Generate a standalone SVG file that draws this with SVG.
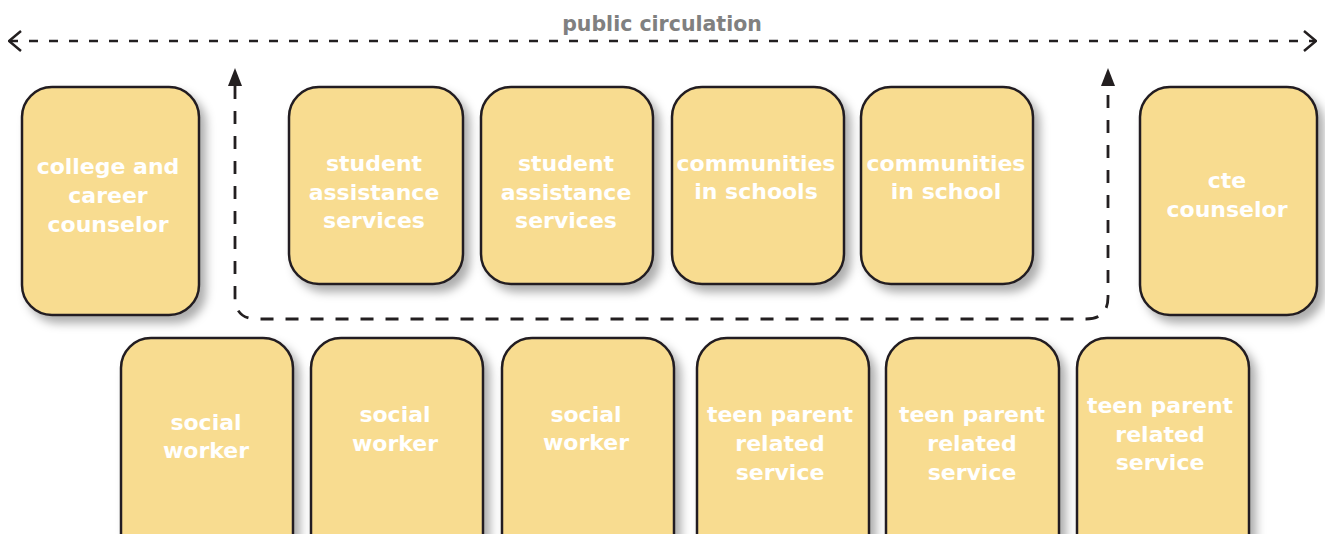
<svg xmlns="http://www.w3.org/2000/svg" width="1325" height="534" viewBox="0 0 1325 534">
<defs>
<style>
.box{fill:#F8DC90;stroke:#231F20;stroke-width:2.5;filter:url(#sh)}
.lbl{font-family:"DejaVu Sans",sans-serif;font-weight:bold;font-size:22px;fill:#FFFFFF;text-anchor:middle}
.title{font-family:"DejaVu Sans",sans-serif;font-weight:bold;font-size:20.5px;fill:#808080;text-anchor:middle}
.dash1{fill:none;stroke:#231F20;stroke-width:2.5;stroke-dasharray:9 11}
.dash2{fill:none;stroke:#231F20;stroke-width:2.8;stroke-dasharray:13 12}
</style>
<filter id="sh" x="-20%" y="-20%" width="150%" height="150%">
<feDropShadow dx="6" dy="7" stdDeviation="5" flood-color="#000" flood-opacity="0.32"/>
</filter>
<marker id="chev" viewBox="0 0 14 22" refX="13" refY="11" markerWidth="14" markerHeight="22" markerUnits="userSpaceOnUse" orient="auto-start-reverse">
<path d="M1,1 L13,11 L1,21" fill="none" stroke="#231F20" stroke-width="2.5" stroke-dasharray="none"/>
</marker>
<marker id="tri" viewBox="0 0 18 14" refX="0" refY="7" markerWidth="18" markerHeight="14" markerUnits="userSpaceOnUse" orient="auto-start-reverse">
<path d="M0,0 L18,7 L0,14 Z" fill="#231F20"/>
</marker>
</defs>
<rect width="1325" height="534" fill="#FFFFFF"/>

<g id="connectors">
<path class="dash1" d="M9,41 H1316" marker-start="url(#chev)" marker-end="url(#chev)"/>
<path class="dash2" d="M235,86 V297 Q235,319 257,319 H1086 Q1108,319 1108,297 V86" marker-start="url(#tri)" marker-end="url(#tri)"/>
<text class="title" x="662" y="31">public circulation</text>
</g>

<g id="college-career-counselor">
<rect class="box" x="22" y="87" width="177" height="228" rx="30"/>
<text class="lbl" x="108" y="174">college and</text>
<text class="lbl" x="108" y="203">career</text>
<text class="lbl" x="108" y="232">counselor</text>
</g>
<g id="student-assistance-1">
<rect class="box" x="289" y="87" width="174" height="197" rx="30"/>
<text class="lbl" x="374" y="171">student</text>
<text class="lbl" x="374" y="200">assistance</text>
<text class="lbl" x="374" y="228">services</text>
</g>
<g id="student-assistance-2">
<rect class="box" x="481" y="87" width="172" height="197" rx="30"/>
<text class="lbl" x="566" y="171">student</text>
<text class="lbl" x="566" y="200">assistance</text>
<text class="lbl" x="566" y="228">services</text>
</g>
<g id="communities-in-schools">
<rect class="box" x="672" y="87" width="172" height="197" rx="30"/>
<text class="lbl" x="756" y="171">communities</text>
<text class="lbl" x="756" y="199">in schools</text>
</g>
<g id="communities-in-school">
<rect class="box" x="861" y="87" width="172" height="197" rx="30"/>
<text class="lbl" x="946" y="171">communities</text>
<text class="lbl" x="946" y="199">in school</text>
</g>
<g id="cte-counselor">
<rect class="box" x="1140" y="87" width="177" height="228" rx="30"/>
<text class="lbl" x="1227" y="188">cte</text>
<text class="lbl" x="1227" y="217">counselor</text>
</g>

<g id="social-worker-1">
<rect class="box" x="121" y="338" width="172" height="230" rx="30"/>
<text class="lbl" x="206" y="430">social</text>
<text class="lbl" x="206" y="458">worker</text>
</g>
<g id="social-worker-2">
<rect class="box" x="311" y="338" width="172" height="230" rx="30"/>
<text class="lbl" x="395" y="422">social</text>
<text class="lbl" x="395" y="451">worker</text>
</g>
<g id="social-worker-3">
<rect class="box" x="502" y="338" width="172" height="230" rx="30"/>
<text class="lbl" x="586" y="422">social</text>
<text class="lbl" x="586" y="450">worker</text>
</g>
<g id="teen-parent-1">
<rect class="box" x="697" y="338" width="172" height="230" rx="30"/>
<text class="lbl" x="780" y="422">teen parent</text>
<text class="lbl" x="780" y="451">related</text>
<text class="lbl" x="780" y="480">service</text>
</g>
<g id="teen-parent-2">
<rect class="box" x="886" y="338" width="173" height="230" rx="30"/>
<text class="lbl" x="972" y="422">teen parent</text>
<text class="lbl" x="972" y="451">related</text>
<text class="lbl" x="972" y="480">service</text>
</g>
<g id="teen-parent-3">
<rect class="box" x="1077" y="338" width="172" height="230" rx="30"/>
<text class="lbl" x="1160" y="413">teen parent</text>
<text class="lbl" x="1160" y="442">related</text>
<text class="lbl" x="1160" y="470">service</text>
</g>
</svg>
